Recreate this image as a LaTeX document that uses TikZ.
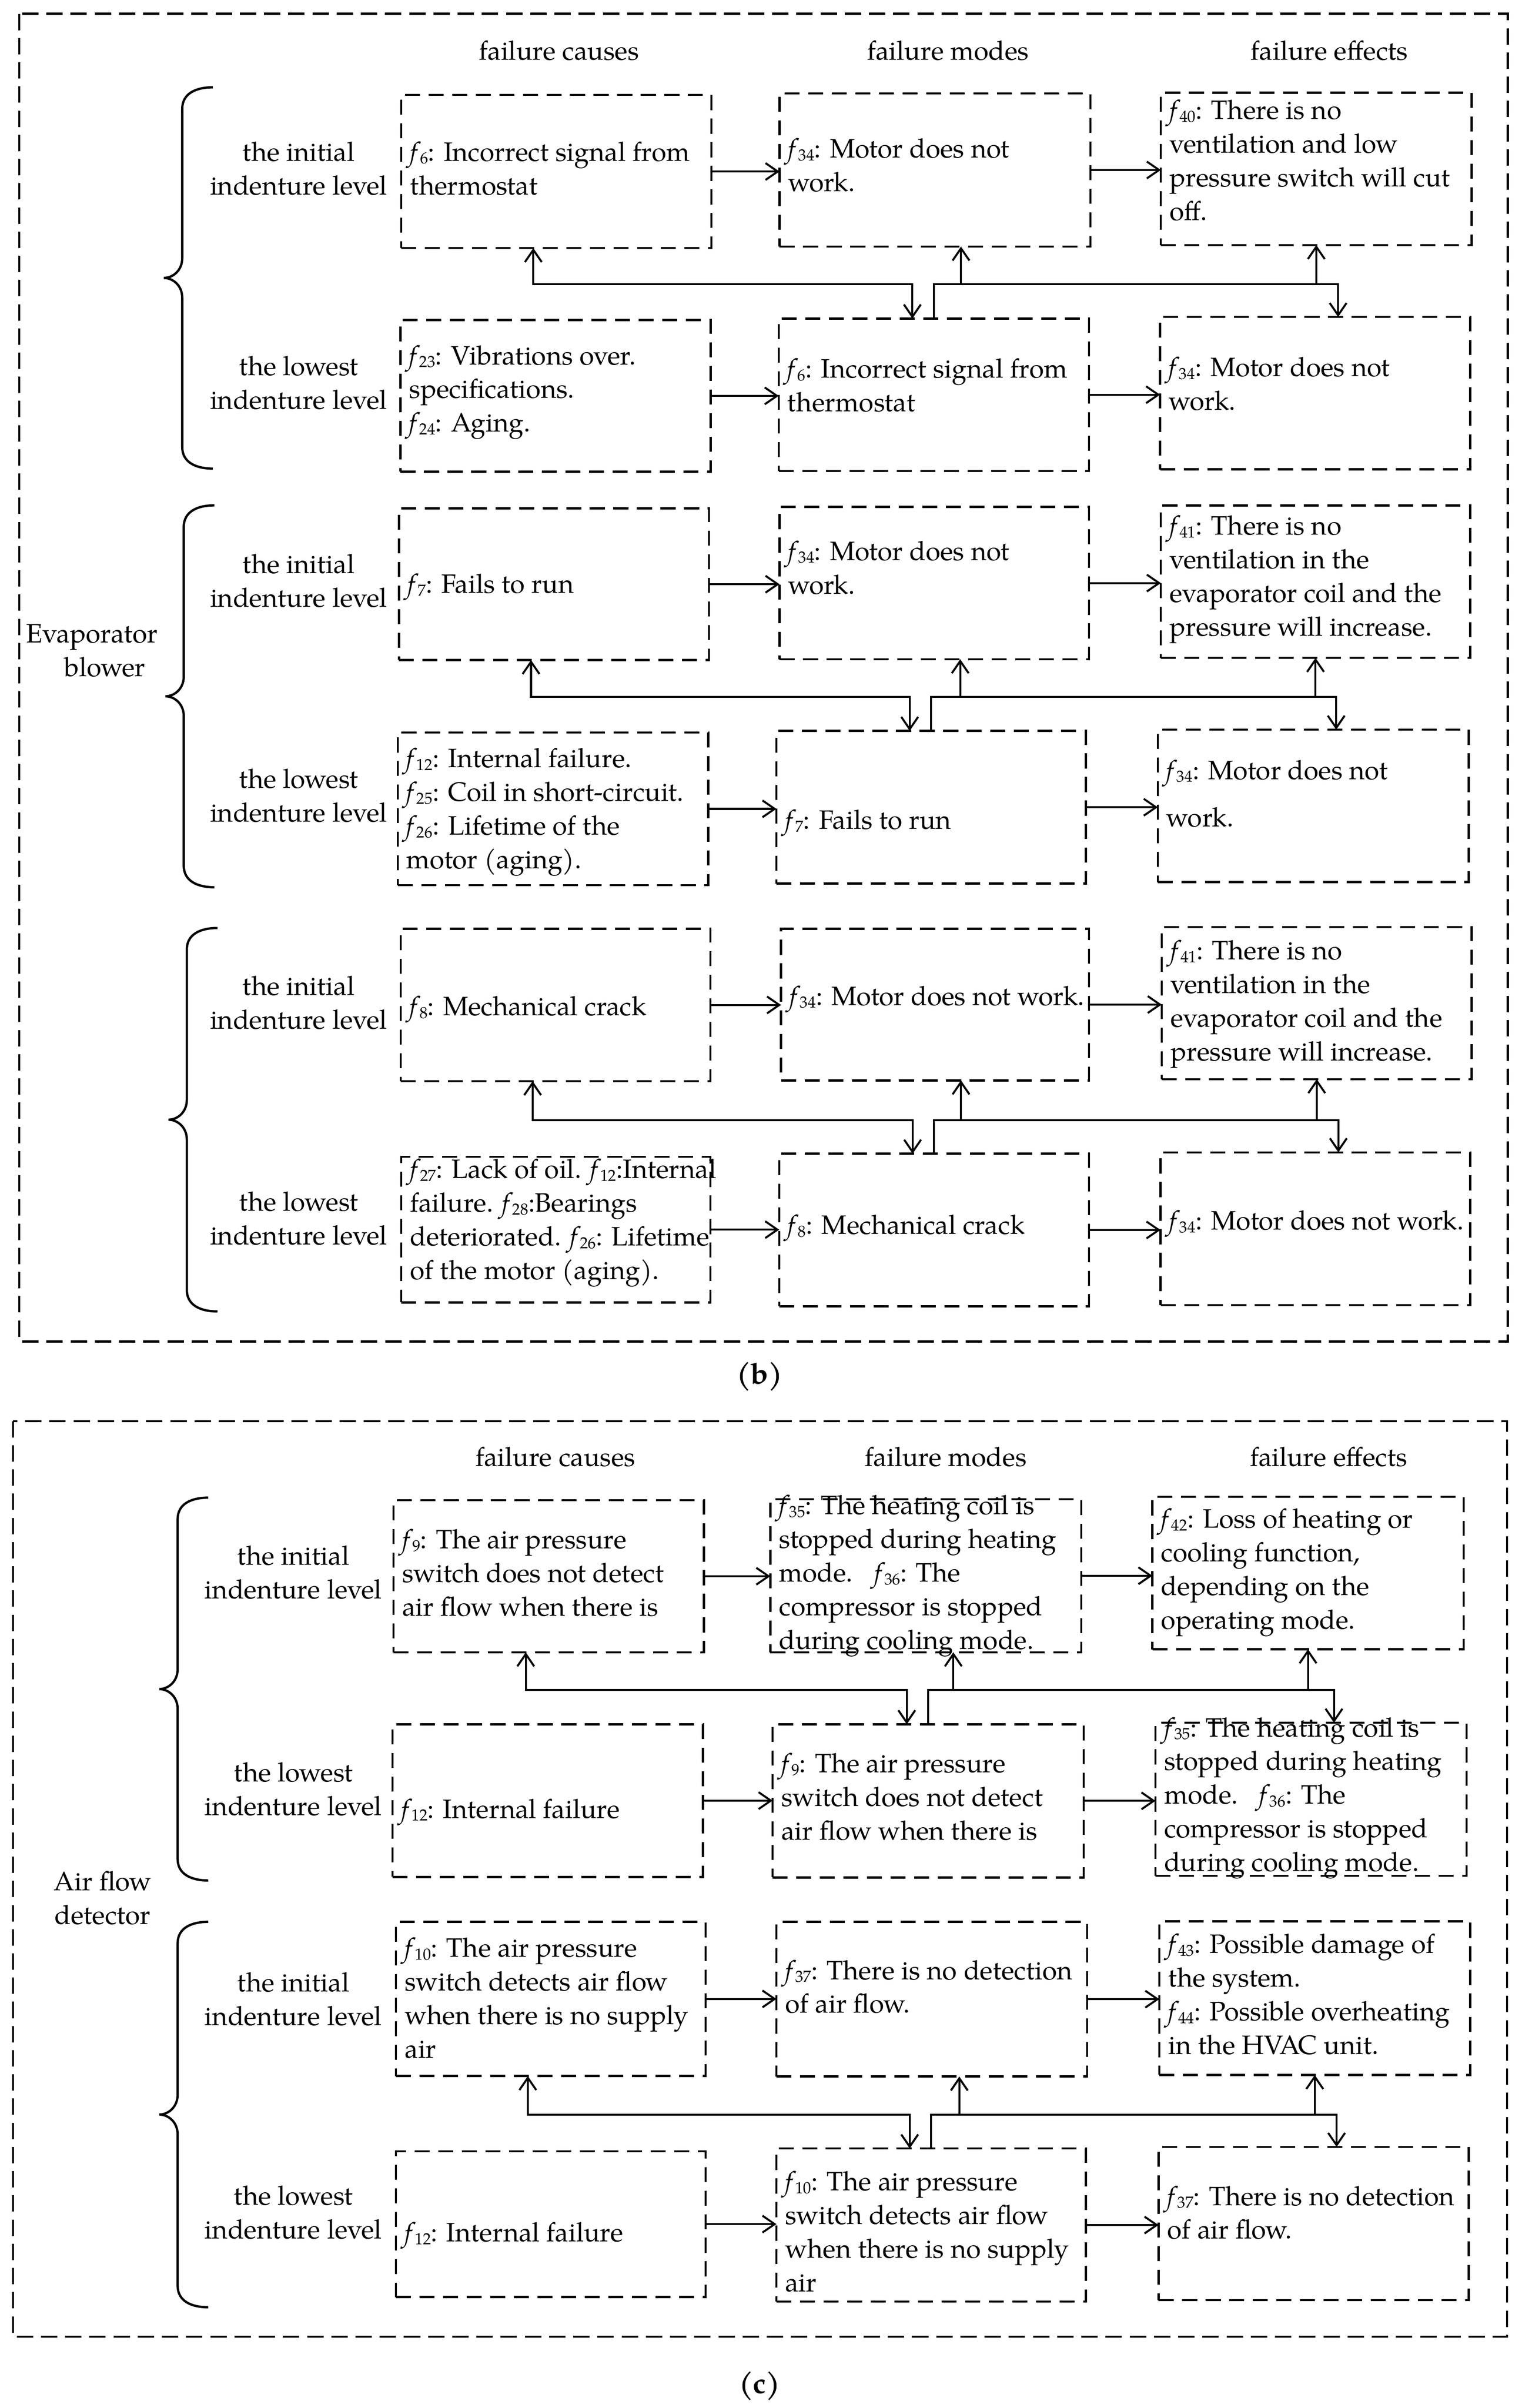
\documentclass[tikz,border=0pt]{standalone}
\usepackage{fontspec}
\setmainfont{TeX Gyre Pagella}
\usetikzlibrary{arrows.meta}
\newcommand{\ff}[1]{\textit{f}\kern-0.6pt\raisebox{-1.8pt}{\fontsize{10.5}{11}\selectfont #1}}
\newcommand{\fs}{\fontsize{17.4}{22}\selectfont}
\tikzset{
  bx/.style={draw, line width=1.4pt, dash pattern=on 9.8pt off 5.6pt, inner sep=0pt, outer sep=0pt},
  tx/.style={inner sep=0pt, align=left, font=\fs, execute at begin node=\strut, execute at end node=\strut},
  lbl/.style={inner sep=0pt, align=center, font=\fs, execute at begin node=\strut, execute at end node=\strut},
  arr/.style={line width=1.3pt, -{Straight Barb[length=8pt,width=11pt]}},
  darr/.style={line width=1.3pt, {Straight Barb[length=8pt,width=11pt]}-{Straight Barb[length=8pt,width=11pt]}},
  brc/.style={line width=1.5pt},
  panelframe/.style={line width=1.4pt, dash pattern=on 10.7pt off 5.1pt},
  capt/.style={inner sep=0pt, font=\fontsize{19}{22}\selectfont\bfseries},
}
% name, x1, x2, y1, y2, text dy, text
\newcommand{\mkbox}[7]{%
  \node[bx, minimum width={#3pt-#2pt}, minimum height={#5pt-#4pt}] (#1) at ({(#2+#3)/2},{(#4+#5)/2}) {};
  \node[tx, anchor=west] (#1t) at ({#2+5.5},{(#4+#5)/2+#6}) {#7};}
% prefix, y of horizontal, shift of mode branch
\newcommand{\links}[3]{%
  \coordinate (#1h) at (0,#2);
  \draw[arr] (#1c1.east) -- (#1c1.east -| #1m1.west);
  \draw[arr] (#1m1.east) -- (#1m1.east -| #1e1.west);
  \draw[arr] (#1c2.east) -- (#1c2.east -| #1m2.west);
  \draw[arr] (#1m2.east) -- (#1m2.east -| #1e2.west);
  \draw[darr] ([xshift=-15pt]#1c1.south) -- ([xshift=-15pt]#1c1.south |- #1h) -- ([xshift=-14pt]#1m2.north |- #1h) -- ([xshift=-14pt]#1m2.north);
  \draw[arr] (#1m2.north) -- (#1m2.north |- #1h) -- ([xshift=15pt]#1e2.north |- #1h) -- ([xshift=15pt]#1e2.north);
  \draw[arr] ([xshift=#3pt]#1m1.south |- #1h) -- ([xshift=#3pt]#1m1.south);
  \draw[arr] (#1e1.south |- #1h) -- (#1e1.south);}
% x of ends, y top, y bottom
\newcommand{\brc}[3]{%
  \pgfmathsetmacro{\brcmid}{(#2+#3)/2}
  \draw[brc] (#1,#2) .. controls ({#1-11},#2) and ({#1-20},{#2+4}) .. ({#1-20},{#2+14})
    -- ({#1-20},{\brcmid-13}) .. controls ({#1-20},{\brcmid-5}) and ({#1-26},\brcmid) .. ({#1-32},\brcmid)
    .. controls ({#1-26},\brcmid) and ({#1-20},{\brcmid+5}) .. ({#1-20},{\brcmid+13})
    -- ({#1-20},{#3-14}) .. controls ({#1-20},{#3-4}) and ({#1-11},#3) .. (#1,#3);}
\begin{document}
\begin{tikzpicture}[x=1pt,y=-1pt]
\useasboundingbox (0,0) rectangle (993.6,1572.5);
% ---------------- panel (b)
\draw[panelframe] (12.5,9) rectangle (984.6,876);
\node[lbl] (bh1) at (365,34.7) {failure causes};
\node[lbl] (bh2) at (619,34.7) {failure modes};
\node[lbl] (bh3) at (868,34.7) {failure effects};
\node[lbl] (bsys) at (60,428) {Evaporator\\\hspace*{17pt}blower};
\brc{139}{57}{306}
\brc{140}{330}{579.4}
\brc{142}{606}{856.4}
\node[lbl] (b1li) at (195,113.3) {the initial\\indenture level};
\node[lbl] (b1ll) at (195,253) {the lowest\\indenture level};
\node[lbl] (b2li) at (195,382.3) {the initial\\indenture level};
\node[lbl] (b2ll) at (195,522.7) {the lowest\\indenture level};
\node[lbl] (b3li) at (195,658) {the initial\\indenture level};
\node[lbl] (b3ll) at (195,798.7) {the lowest\\indenture level};
% group 1
\mkbox{b1c1}{262}{464.5}{62}{162}{1}{\ff{6}: Incorrect signal from\\thermostat}
\mkbox{b1m1}{509}{712}{61}{161}{0}{\ff{34}: Motor does not\\work.}
\mkbox{b1e1}{758}{961}{60.5}{160}{-2.5}{\ff{40}: There is no\\ventilation and low\\pressure switch will cut\\off.}
\mkbox{b1c2}{261.5}{464}{209}{308}{-1.5}{\ff{23}: Vibrations over.\\specifications.\\\ff{24}: Aging.}
\mkbox{b1m2}{508.5}{711}{208}{307.5}{-3}{\ff{6}: Incorrect signal from\\thermostat}
\mkbox{b1e2}{757.5}{960}{207}{306.5}{-3}{\ff{34}: Motor does not\\work.}
\links{b1}{185.5}{17}
% group 2
\mkbox{b2c1}{260.5}{463}{332}{431}{1.5}{\ff{7}: Fails to run}
\mkbox{b2m1}{509}{711}{331}{430.5}{-7}{\ff{34}: Motor does not\\work.}
\mkbox{b2e1}{758}{960}{330}{429.6}{-0.5}{\ff{41}: There is no\\ventilation in the\\evaporator coil and the\\pressure will increase.}
\mkbox{b2c2}{259.7}{462.4}{478.4}{578}{3}{\ff{12}: Internal failure.\\\ff{25}: Coil in short-circuit.\\\ff{26}: Lifetime of the\\motor (aging).}
\mkbox{b2m2}{507}{709}{477.3}{577}{10}{\ff{7}: Fails to run}
\mkbox{b2e2}{756}{959}{476.5}{576}{-5}{\ff{34}: Motor does not\\[8.8pt]work.}
\links{b2}{455}{17}
% group 3
\mkbox{b3c1}{261.7}{463.9}{606.5}{706}{2.5}{\ff{8}: Mechanical crack}
\mkbox{b3m1}{510}{711}{606.5}{705.5}{-4}{\ff{34}: Motor does not work.}
\mkbox{b3e1}{758.6}{961}{605.4}{704.7}{1.5}{\ff{41}: There is no\\ventilation in the\\evaporator coil and the\\pressure will increase.}
\mkbox{b3c2}{262}{463.8}{755.5}{850.5}{-3.7}{\ff{27}: Lack of oil. \ff{12}:Internal\\failure. \ff{28}:Bearings\\deteriorated. \ff{26}: Lifetime\\of the motor (aging).}
\mkbox{b3m2}{508.8}{711}{753.4}{853}{-1.6}{\ff{8}: Mechanical crack}
\mkbox{b3e2}{757.8}{960}{752.5}{852.3}{-3.7}{\ff{34}: Motor does not work.}
\links{b3}{731.5}{17}
\node[capt] (capb) at (496,899) {(b)};
% ---------------- panel (c)
\draw[panelframe] (8.5,928) rectangle (984,1526);
\node[lbl] (ch1) at (362.7,953) {failure causes};
\node[lbl] (ch2) at (617.6,953) {failure modes};
\node[lbl] (ch3) at (867.5,953) {failure effects};
\node[lbl] (csys) at (67,1242.5) {Air flow\\detector};
\brc{136}{978}{1228}
\brc{136}{1255}{1506.7}
\node[lbl] (c1li) at (191.5,1029.8) {the initial\\indenture level};
\node[lbl] (c1ll) at (191.5,1171.5) {the lowest\\indenture level};
\node[lbl] (c2li) at (191.5,1308.5) {the initial\\indenture level};
\node[lbl] (c2ll) at (191.5,1448) {the lowest\\indenture level};
% group 1
\mkbox{c1c1}{257}{459.6}{979.6}{1079}{1}{\ff{9}: The air pressure\\switch does not detect\\air flow when there is}
\mkbox{c1m1}{503}{706}{979}{1079}{1}{\ff{35}: The heating coil is\\stopped during heating\\mode.\hspace{14pt}\ff{36}: The\\compressor is stopped\\during cooling mode.}
\mkbox{c1e1}{752.5}{955.7}{977.5}{1077}{0.5}{\ff{42}: Loss of heating or\\cooling function,\\depending on the\\operating mode.}
\mkbox{c1c2}{256.4}{459}{1126}{1225.7}{7}{\ff{12}: Internal failure}
\mkbox{c1m2}{504.5}{707.7}{1126}{1226}{0.5}{\ff{9}: The air pressure\\switch does not detect\\air flow when there is}
\mkbox{c1e2}{754.5}{957.6}{1125}{1225}{0}{\ff{35}: The heating coil is\\stopped during heating\\mode.\hspace{14pt}\ff{36}: The\\compressor is stopped\\during cooling mode.}
\links{c1}{1103.5}{18}
% group 2
\mkbox{c2c1}{258.6}{460.7}{1255}{1355.7}{2.6}{\ff{10}: The air pressure\\switch detects air flow\\when there is no supply\\air}
\mkbox{c2m1}{507}{709.8}{1255}{1356}{-5}{\ff{37}: There is no detection\\of air flow.}
\mkbox{c2e1}{757}{960}{1254.7}{1355}{0.5}{\ff{43}: Possible damage of\\the system.\\\ff{44}: Possible overheating\\in the HVAC unit.}
\mkbox{c2c2}{258.6}{460.7}{1404.8}{1500}{7}{\ff{12}: Internal failure}
\mkbox{c2m2}{507}{709}{1403}{1503}{7.5}{\ff{10}: The air pressure\\switch detects air flow\\when there is no supply\\air}
\mkbox{c2e2}{756.5}{959}{1402}{1502}{-4}{\ff{37}: There is no detection\\of air flow.}
\links{c2}{1381}{18}
\node[capt] (capc) at (496,1558) {(c)};
\end{tikzpicture}
\end{document}
